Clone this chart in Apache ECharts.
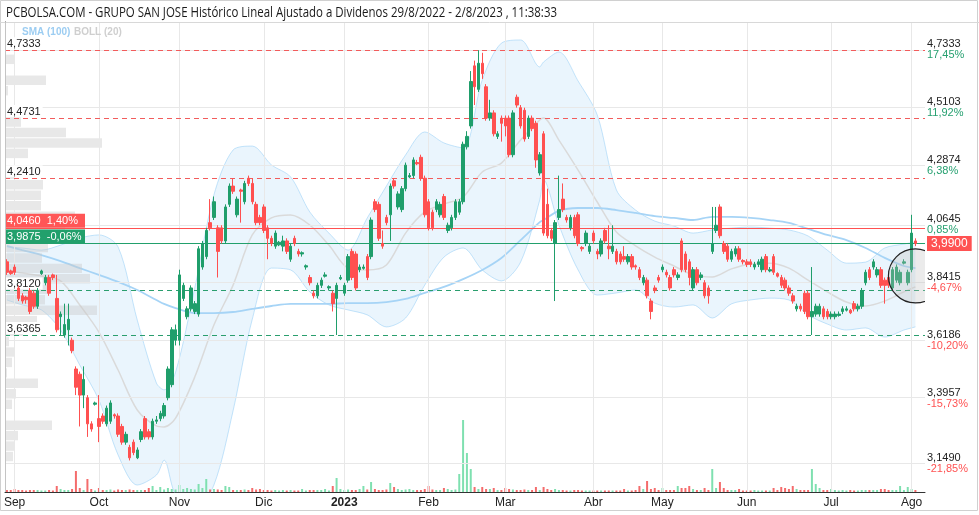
<!DOCTYPE html>
<html><head><meta charset="utf-8">
<script src="https://cdn.jsdelivr.net/npm/echarts@6/dist/echarts.min.js"></script>
<style>html,body{margin:0;padding:0;background:#fff}#c{width:979px;height:515px}</style>
</head><body><div id="c"></div>
<script>
// ---------- categories (trading days) ----------
const firstDate = '2022-08-30', lastDate = '2023-08-02';
const holidays = ['2022-12-26','2023-04-07','2023-04-10','2023-05-01'];
const monthNames = ['Ene','Feb','Mar','Abr','May','Jun','Jul','Ago','Sep','Oct','Nov','Dic'];
const padCategories = 2;

// ---------- OHLC: [open, close, low, high] ----------
const candlesAug22 = [[3.92,3.88,3.87,3.93],[3.885,3.875,3.87,3.89]];
const candlesSep = [[3.90,3.88,3.87,3.91],[3.82,3.78,3.77,3.83],[3.79,3.77,3.76,3.80],[3.785,3.775,3.76,3.79],[3.81,3.73,3.72,3.82],[3.80,3.75,3.74,3.81],[3.75,3.81,3.74,3.82],[3.875,3.885,3.87,3.89],[3.84,3.86,3.83,3.87],[3.86,3.80,3.79,3.87],[3.87,3.86,3.85,3.875],[3.78,3.66,3.65,3.87],[3.71,3.72,3.64,3.73],[3.64,3.68,3.63,3.76],[3.66,3.70,3.60,3.76],[3.62,3.58,3.57,3.63],[3.51,3.44,3.41,3.52],[3.49,3.41,3.29,3.50],[3.41,3.47,3.36,3.52],[3.40,3.30,3.25,3.41],[3.30,3.28,3.27,3.31],[3.375,3.38,3.37,3.385]];
const candlesOct = [[3.32,3.29,3.23,3.41],[3.33,3.31,3.30,3.34],[3.30,3.36,3.29,3.37],[3.31,3.38,3.30,3.39],[3.335,3.33,3.32,3.34],[3.33,3.26,3.25,3.34],[3.29,3.23,3.22,3.30],[3.23,3.26,3.22,3.27],[3.21,3.17,3.16,3.22],[3.23,3.19,3.18,3.24],[3.17,3.20,3.165,3.21],[3.24,3.27,3.23,3.28],[3.32,3.25,3.24,3.33],[3.27,3.25,3.24,3.28],[3.25,3.31,3.24,3.32],[3.31,3.315,3.30,3.33],[3.32,3.34,3.31,3.35],[3.33,3.37,3.32,3.38],[3.40,3.51,3.39,3.52],[3.45,3.66,3.44,3.67],[3.62,3.66,3.60,3.68]];
const candlesNov = [[3.62,3.87,3.60,3.89],[3.78,3.83,3.77,3.84],[3.71,3.74,3.70,3.75],[3.74,3.82,3.73,3.83],[3.73,3.76,3.72,3.77],[3.72,3.97,3.71,3.98],[3.90,3.99,3.89,4.00],[3.94,4.04,3.93,4.05],[4.07,4.05,4.04,4.16],[4.09,4.15,4.08,4.17],[4.05,3.96,3.86,4.06],[4.05,4.00,3.99,4.06],[4.00,4.13,3.99,4.14],[4.14,4.21,4.13,4.22],[4.21,4.19,4.18,4.24],[4.10,4.16,4.09,4.17],[4.195,4.19,4.07,4.20],[4.15,4.22,4.14,4.23],[4.24,4.22,4.21,4.25],[4.22,4.15,4.14,4.24],[4.14,4.07,4.06,4.15],[4.09,4.07,4.06,4.10]];
const candlesDec = [[4.13,4.04,4.03,4.14],[4.05,4.01,3.93,4.06],[4.01,3.99,3.98,4.02],[3.98,4.03,3.97,4.04],[3.985,3.995,3.98,4.00],[3.98,4.00,3.96,4.02],[4.00,3.96,3.95,4.01],[3.93,3.98,3.92,3.99],[4.01,3.99,3.98,4.02],[3.96,3.95,3.94,3.97],[3.95,3.955,3.94,3.96],[3.90,3.905,3.89,3.91],[3.86,3.84,3.83,3.87],[3.80,3.79,3.78,3.81],[3.79,3.83,3.78,3.84],[3.83,3.85,3.82,3.86],[3.865,3.87,3.86,3.88],[3.82,3.825,3.81,3.83],[3.80,3.76,3.73,3.81],[3.78,3.83,3.64,3.84],[3.855,3.86,3.85,3.87]];
const candlesJan = [[3.80,3.83,3.79,3.84],[3.85,3.94,3.84,3.95],[3.96,3.86,3.85,3.97],[3.95,3.82,3.81,3.96],[3.89,3.90,3.88,3.91],[3.895,3.90,3.89,3.91],[3.94,3.86,3.85,3.95],[3.94,4.08,3.93,4.09],[4.15,4.12,4.11,4.16],[4.14,4.01,4.00,4.15],[3.99,3.98,3.97,4.04],[4.09,4.07,4.06,4.10],[4.10,4.21,4.00,4.22],[4.23,4.21,4.20,4.24],[4.13,4.18,4.12,4.19],[4.12,4.20,4.11,4.21],[4.20,4.29,4.19,4.30],[4.245,4.25,4.24,4.26],[4.25,4.31,4.24,4.32],[4.30,4.295,4.29,4.31],[4.32,4.24,4.23,4.33],[4.24,4.10,4.09,4.25]];
const candlesFeb = [[4.15,4.05,4.04,4.16],[4.11,4.05,4.04,4.12],[4.12,4.15,4.11,4.16],[4.10,4.14,4.09,4.15],[4.17,4.09,4.08,4.18],[4.04,4.06,4.03,4.07],[4.05,4.09,4.04,4.10],[4.09,4.15,4.08,4.16],[4.11,4.15,4.10,4.16],[4.15,4.37,4.14,4.38],[4.36,4.40,4.35,4.42],[4.44,4.61,4.43,4.65],[4.67,4.59,4.52,4.69],[4.58,4.68,4.57,4.73],[4.68,4.64,4.62,4.72],[4.59,4.47,4.46,4.60],[4.47,4.49,4.46,4.54],[4.49,4.41,4.40,4.50],[4.40,4.41,4.39,4.42],[4.47,4.45,4.38,4.48]];
const candlesMar = [[4.47,4.44,4.40,4.48],[4.47,4.33,4.32,4.48],[4.33,4.49,4.32,4.50],[4.55,4.52,4.51,4.56],[4.51,4.44,4.43,4.52],[4.50,4.39,4.38,4.51],[4.40,4.47,4.39,4.48],[4.47,4.43,4.42,4.48],[4.45,4.31,4.28,4.46],[4.26,4.33,4.25,4.34],[4.41,4.03,4.02,4.42],[4.14,4.02,4.01,4.20],[4.04,4.01,4.00,4.05],[3.99,4.07,3.77,4.08],[4.09,4.12,4.08,4.25],[4.16,4.12,4.11,4.22],[4.09,4.08,4.07,4.10],[4.05,4.09,4.04,4.10],[4.09,4.02,4.01,4.10],[4.10,3.99,3.98,4.11],[3.975,3.97,3.96,3.98],[3.99,4.03,3.98,4.04],[3.96,3.98,3.95,3.99]];
const candlesApr = [[4.03,4.00,3.99,4.04],[3.96,3.95,3.93,3.97],[3.95,4.00,3.94,4.01],[4.04,4.00,3.99,4.05],[3.98,3.97,3.93,4.06],[3.96,3.98,3.95,4.06],[3.96,3.92,3.91,3.97],[3.95,3.92,3.91,3.96],[3.94,3.93,3.92,3.98],[3.92,3.94,3.91,3.95],[3.94,3.90,3.89,3.95],[3.905,3.90,3.89,3.91],[3.89,3.86,3.85,3.90],[3.84,3.86,3.83,3.87],[3.85,3.79,3.78,3.86],[3.77,3.73,3.70,3.78],[3.82,3.81,3.80,3.83],[3.86,3.85,3.84,3.87]];
const candlesMay = [[3.89,3.90,3.88,3.91],[3.88,3.87,3.86,3.89],[3.86,3.82,3.81,3.87],[3.89,3.87,3.86,3.90],[3.86,3.87,3.85,3.88],[4.00,3.89,3.88,4.01],[3.95,3.89,3.88,3.96],[3.92,3.86,3.83,3.93],[3.82,3.89,3.81,3.90],[3.89,3.84,3.83,3.90],[3.86,3.87,3.85,3.88],[3.84,3.79,3.78,3.85],[3.82,3.79,3.76,3.83],[3.96,3.99,3.95,4.13],[4.04,4.06,4.03,4.13],[4.13,4.02,4.01,4.14],[3.99,3.96,3.95,4.00],[3.98,3.93,3.92,3.99],[3.93,3.96,3.92,3.97],[3.95,3.97,3.94,3.98],[3.97,3.93,3.92,3.98],[3.925,3.92,3.91,3.93]];
const candlesJun = [[3.92,3.91,3.90,3.93],[3.92,3.91,3.90,3.93],[3.90,3.91,3.89,3.92],[3.91,3.92,3.90,3.93],[3.89,3.93,3.88,3.94],[3.94,3.89,3.88,3.95],[3.885,3.89,3.88,3.90],[3.94,3.88,3.87,3.95],[3.875,3.865,3.86,3.88],[3.86,3.83,3.82,3.87],[3.85,3.82,3.81,3.86],[3.82,3.80,3.79,3.83],[3.79,3.77,3.76,3.80],[3.74,3.75,3.73,3.76],[3.75,3.74,3.73,3.76],[3.80,3.73,3.72,3.81],[3.80,3.71,3.70,3.81],[3.71,3.73,3.64,3.90],[3.72,3.75,3.71,3.76],[3.72,3.75,3.71,3.76],[3.74,3.71,3.70,3.75],[3.73,3.71,3.70,3.74]];
const candlesJul = [[3.71,3.72,3.70,3.73],[3.71,3.72,3.70,3.73],[3.715,3.72,3.71,3.73],[3.73,3.74,3.72,3.75],[3.735,3.74,3.73,3.75],[3.735,3.725,3.72,3.74],[3.76,3.74,3.73,3.77],[3.74,3.75,3.73,3.76],[3.75,3.81,3.74,3.82],[3.84,3.88,3.83,3.89],[3.89,3.86,3.85,3.90],[3.90,3.92,3.89,3.93],[3.87,3.89,3.86,3.90],[3.89,3.83,3.82,3.90],[3.85,3.83,3.76,3.86],[3.86,3.83,3.82,3.87],[3.82,3.89,3.81,3.90],[3.85,3.90,3.84,3.91],[3.84,3.88,3.83,3.89],[3.915,3.92,3.91,3.93],[3.84,3.88,3.83,3.89]];
const candlesAug23 = [[3.89,4.03,3.88,4.10],[4.00,3.99,3.98,4.01]];

// ---------- volume (miles de acciones) ----------
const volAug22 = [40,40];
const volSep = [60,40,40,30,40,40,40,30,30,40,30,120,60,40,40,60,420,80,40,260,60,30];
const volOct = [80,40,40,50,30,50,40,40,50,40,40,40,40,80,120,40,100,50,80,60,50];
const volNov = [140,60,80,60,50,160,80,260,50,60,50,40,120,100,40,40,40,50,40,80,50,60];
const volDec = [40,40,30,40,30,40,30,40,30,30,60,30,40,40,40,40,60,30,120,280,60];
const volJan = [40,50,40,40,60,120,50,200,60,40,40,50,180,100,60,40,50,60,40,40,40,60];
const volFeb = [120,50,40,40,80,60,40,50,360,1440,780,460,100,60,100,60,60,80,40,40];
const volMar = [80,60,50,40,40,50,40,40,100,40,100,60,40,60,40,40,30,30,40,40,30,30,30];
const volApr = [30,30,30,30,30,30,30,30,60,30,30,40,120,60,220,60,80,40];
const volMay = [80,40,40,40,120,80,80,120,60,40,40,80,40,460,80,200,80,40,40,40,60,30];
const volJun = [30,30,40,30,30,30,30,80,40,100,80,60,120,60,40,40,40,460,160,80,40,40];
const volJul = [60,40,30,40,30,40,30,30,40,40,40,40,40,60,60,40,40,40,120,40,100];
const volAug23 = [60,40];

// ---------- indicators read at sampled days (category index) ----------
const sampleIdx = [0,4,9,14,19,24,29,34,39,41,44,49,54,59,64,69,74,79,84,89,94,99,104,109,114,119,124,129,134,139,140,144,149,154,159,164,169,174,179,184,189,194,199,204,209,214,219,224,229,234,237];
const bollUpper = [3.977,3.973,3.965,3.984,4.011,4.023,3.977,3.697,3.456,3.43,3.498,3.820,4.176,4.348,4.363,4.291,4.245,4.111,4.030,3.965,4.088,4.210,4.329,4.417,4.375,4.356,4.616,4.757,4.769,4.666,4.685,4.723,4.612,4.482,4.195,4.118,4.076,4.057,4.030,4.042,4.049,4.053,4.049,4.042,4.019,3.965,3.915,3.919,3.973,3.988,3.996];
const bollLower = [3.774,3.755,3.736,3.659,3.525,3.391,3.181,3.066,3.104,3.161,3.028,2.970,3.066,3.35,3.70,3.896,3.889,3.805,3.755,3.736,3.717,3.671,3.705,3.831,3.938,3.973,3.889,3.847,3.919,4.157,4.234,4.061,3.889,3.793,3.801,3.812,3.762,3.747,3.755,3.705,3.759,3.774,3.781,3.774,3.717,3.682,3.659,3.667,3.632,3.659,3.671];
const bollMiddle = [3.889,3.877,3.866,3.847,3.755,3.651,3.506,3.353,3.292,3.288,3.322,3.479,3.678,3.831,4.023,4.088,4.099,4.061,3.984,3.896,3.889,3.908,4.030,4.111,4.141,4.168,4.264,4.298,4.386,4.463,4.47,4.386,4.271,4.149,4.034,3.981,3.938,3.904,3.870,3.862,3.893,3.912,3.915,3.896,3.850,3.805,3.766,3.751,3.770,3.805,3.824];
const sma100 = [3.981,3.965,3.946,3.923,3.896,3.870,3.843,3.812,3.774,3.759,3.743,3.724,3.724,3.728,3.740,3.751,3.759,3.759,3.759,3.762,3.762,3.766,3.778,3.801,3.824,3.854,3.889,3.935,4.003,4.072,4.08,4.115,4.126,4.126,4.118,4.107,4.095,4.088,4.080,4.092,4.092,4.088,4.080,4.069,4.046,4.023,4.003,3.973,3.935,3.904,3.896];

// ---------- volume profile (price bins) ----------
const profileStart = 3.155, profileStep = 0.04;
const profileVolume = [8,10,13,47,0,7,11,33,2,7,9,4,18,32,92,40,43,85,77,37,43,40,60,70,36,36,38,10,0,23,97,61,16,23,0,3,41,0,10,0];

// ---------- levels and axis ticks ----------
const resistances = [4.7333, 4.4731, 4.2410];
const supports = [3.8120, 3.6365];
const upperLine = 4.0460, upperLinePct = '1,40%';
const lowerLine = 3.9875, lowerLinePct = '-0,06%';
const lastPrice = 3.9900;
const markedPoint = [237, 3.866];
const rightTicks = [4.7333, 4.5103, 4.2874, 4.0645, 3.8415, 3.6186, 3.3957, 3.1490];
const rightPct = ['17,45%','11,92%','6,38%','0,85%','-4,67%','-10,20%','-15,73%','-21,85%'];
const titleText = 'PCBOLSA.COM - GRUPO SAN JOSE Histórico Lineal Ajustado a Dividenos 29/8/2022 - 2/8/2023 , 11:38:33';

// ---------- build ----------
const categories = [];
for (let d = new Date(firstDate + 'T00:00:00Z'); d <= new Date(lastDate + 'T00:00:00Z'); d.setUTCDate(d.getUTCDate() + 1)) {
  const wd = d.getUTCDay(), s = d.toISOString().slice(0, 10);
  if (wd === 0 || wd === 6 || holidays.includes(s)) continue;
  categories.push(s);
}
for (let k = 0; k < padCategories; k++) categories.push('');
const monthStart = new Set();
for (let j = 1; j < categories.length; j++) {
  if (categories[j] && categories[j].slice(0, 7) !== categories[j - 1].slice(0, 7)) monthStart.add(j);
}
const candles = [].concat(candlesAug22, candlesSep, candlesOct, candlesNov, candlesDec, candlesJan, candlesFeb, candlesMar, candlesApr, candlesMay, candlesJun, candlesJul, candlesAug23);
const volume = [].concat(volAug22, volSep, volOct, volNov, volDec, volJan, volFeb, volMar, volApr, volMay, volJun, volJul, volAug23);

const GREEN = '#1f9e6b', RED = '#ff5050';
const fmt4 = v => v.toFixed(4).replace('.', ',');
const yMin = 3.0392, yMax = 4.8378;

const volData = volume.map((v, j) => ({ value: v, itemStyle: { color: candles[j][1] >= candles[j][0] ? '#7fe0b0' : '#f46c6c' } }));
const pair = arr => sampleIdx.map((c, k) => [c, arr[k]]);
const bandRange = sampleIdx.map((c, k) => [c, bollUpper[k] - bollLower[k]]);

const chart = echarts.init(document.getElementById('c'), null, { renderer: 'canvas' });

// title width fitting
const ctx = document.createElement('canvas').getContext('2d');
ctx.font = '14px "Open Sans"';
const titleScale = 551 / ctx.measureText(titleText).width;

const levelLabel = { position: 'insideStartTop', distance: [0, 1], backgroundColor: '#fff', color: '#222', fontSize: 11, padding: [1, 2, 0, 2], fontFamily: 'Liberation Sans' };

chart.setOption({
  animation: false,
  backgroundColor: '#fff',
  textStyle: { fontFamily: 'Liberation Sans' },
  grid: { left: 5, right: 54, top: 22, bottom: 23, containLabel: false },
  xAxis: [{
    type: 'category', data: categories, boundaryGap: true,
    axisLine: { show: true, lineStyle: { color: '#333' } },
    axisTick: { show: false }, splitLine: { show: false },
    axisLabel: {
      interval: (idx) => monthStart.has(idx), margin: 5, fontSize: 12, color: '#222',
      formatter: (val) => {
        if (!val) return '';
        const m = +val.slice(5, 7);
        return m === 1 ? '{b|' + val.slice(0, 4) + '}' : monthNames[m - 1];
      },
      rich: { b: { fontWeight: 'bold', fontSize: 12, color: '#222' } }
    }
  }, { type: 'value', min: 0, max: 920, show: false }],
  yAxis: [{
    type: 'value', position: 'right', min: yMin, max: yMax,
    axisLine: { show: true, lineStyle: { color: '#333' } },
    axisTick: { show: false }, splitLine: { show: false },
    axisLabel: {
      customValues: rightTicks, margin: 2,
      formatter: (v) => {
        const j = rightTicks.findIndex(t => Math.abs(t - v) < 1e-6);
        if (j < 0) return '';
        const p = rightPct[j];
        return '{v|' + fmt4(v) + '}\n{' + (p[0] === '-' ? 'n' : 'p') + '|' + p + '}';
      },
      rich: {
        v: { color: '#222', fontSize: 11, lineHeight: 11 },
        p: { color: '#26a070', fontSize: 11, lineHeight: 11 },
        n: { color: '#ff5252', fontSize: 11, lineHeight: 11 }
      }
    }
  }, { type: 'value', min: 0, max: 9400, show: false }],
  series: [
    { // grid lines
      type: 'line', data: [], z: 0, silent: true,
      markLine: {
        silent: true, symbol: 'none', label: { show: false },
        lineStyle: { color: '#e8e8e8', type: 'solid', width: 1 },
        data: rightTicks.map(v => ({ yAxis: v })).concat([...monthStart].map(j => ({ xAxis: categories[j] })))
      }
    },
    { name: 'BOLL low', type: 'line', stack: 'boll', data: pair(bollLower), symbol: 'none', smooth: 0.3, z: 1, silent: true,
      lineStyle: { color: 'rgba(150,205,245,0.55)', width: 1 } },
    { name: 'BOLL band', type: 'line', stack: 'boll', data: bandRange, symbol: 'none', smooth: 0.3, z: 1, silent: true,
      lineStyle: { color: 'rgba(150,205,245,0.55)', width: 1 }, areaStyle: { color: 'rgba(170,215,248,0.35)' } },
    { name: 'BOLL (20)', type: 'line', data: pair(bollMiddle), symbol: 'none', smooth: 0.3, z: 2, silent: true,
      lineStyle: { color: '#dadada', width: 1.5 } },
    { name: 'SMA (100)', type: 'line', data: pair(sma100), symbol: 'none', smooth: 0.3, z: 2, silent: true,
      lineStyle: { color: '#a6d4f6', width: 1.8 } },
    { // volume profile
      type: 'custom', xAxisIndex: 1, yAxisIndex: 0, z: 3, silent: true,
      data: profileVolume.map((w, k) => [w, profileStart + k * profileStep, profileStart + (k + 1) * profileStep]),
      encode: { x: 0, y: [1, 2] },
      renderItem: (params, api) => {
        const w = api.value(0);
        if (!w) return null;
        const a = api.coord([0, api.value(1)]), b = api.coord([w, api.value(2)]);
        return { type: 'rect', shape: { x: a[0], y: b[1] + 0.5, width: b[0] - a[0], height: a[1] - b[1] - 1 }, style: { fill: 'rgba(200,200,200,0.42)' } };
      }
    },
    { name: 'Volumen', type: 'bar', xAxisIndex: 0, yAxisIndex: 1, data: volData, barWidth: 2, z: 3, silent: true },
    { name: 'SAN JOSE', type: 'candlestick', data: candles, barWidth: 3, z: 5, silent: true,
      itemStyle: { color: GREEN, color0: RED, borderColor: GREEN, borderColor0: RED, borderWidth: 1 } },
    { // levels
      type: 'line', data: [], z: 6, silent: true,
      markLine: {
        silent: true, symbol: 'none', label: levelLabel,
        data: [].concat(
          resistances.map(v => ({ yAxis: v, lineStyle: { color: '#f25c5c', type: [5, 4], width: 1 }, label: { formatter: fmt4(v) } })),
          supports.map(v => ({ yAxis: v, lineStyle: { color: '#2a9e6e', type: [5, 4], width: 1 }, label: { formatter: fmt4(v) } })),
          [{ yAxis: upperLine, lineStyle: { color: '#ff5050', type: 'solid', width: 1 },
             label: { formatter: fmt4(upperLine) + '  ' + upperLinePct, backgroundColor: '#ff5656', color: '#fff', fontSize: 11, padding: [2, 2, 1, 2], width: 76, distance: [0, 0] } },
           { yAxis: lowerLine, lineStyle: { color: '#22a06c', type: 'solid', width: 1 },
             label: { formatter: fmt4(lowerLine) + '  ' + lowerLinePct, backgroundColor: '#22a06c', color: '#fff', fontSize: 11, padding: [2, 2, 1, 2], width: 76, distance: [0, 0] } }]
        )
      }
    },
    { // last price tag
      type: 'line', data: [], z: 8, silent: true,
      markLine: {
        silent: true, symbol: 'none',
        lineStyle: { color: 'rgba(0,0,0,0)', width: 0 },
        label: { position: 'end', distance: 2, backgroundColor: '#ff5252', color: '#fff', fontSize: 12, padding: [2, 4, 1, 4], fontFamily: 'Liberation Sans' },
        data: [{ yAxis: lastPrice, label: { formatter: fmt4(lastPrice) } }]
      }
    },
    { // marked point circle
      type: 'custom', clip: true, z: 7, silent: true, data: [markedPoint],
      renderItem: (params, api) => {
        const c = api.coord([api.value(0), api.value(1)]);
        return { type: 'circle', shape: { cx: c[0], cy: c[1], r: 27 }, style: { fill: 'rgba(190,190,190,0.3)', stroke: '#222', lineWidth: 1.2 } };
      }
    }
  ],
  graphic: [
    { type: 'rect', silent: true, z: 100, shape: { x: 0.5, y: 0.5, width: 977, height: 510 }, style: { fill: 'none', stroke: '#d0d0d0' } },
    { type: 'line', silent: true, z: 100, shape: { x1: 0, y1: 22.5, x2: 979, y2: 22.5 }, style: { stroke: '#d8d8d8' } },
    { type: 'line', silent: true, z: 100, shape: { x1: 5.5, y1: 22, x2: 5.5, y2: 492 }, style: { stroke: '#c4c4c4' } },
    { type: 'text', silent: true, z: 100, x: 6, y: 13, scaleX: titleScale,
      style: { text: titleText, font: '14px "Open Sans"', fill: '#1a1a1a', verticalAlign: 'middle' } },
    { type: 'text', silent: true, z: 100, x: 22, y: 32,
      style: { text: 'SMA (100)', font: 'bold 10px "Liberation Sans"', fill: '#9ccdf2', verticalAlign: 'middle' } },
    { type: 'text', silent: true, z: 100, x: 74, y: 32,
      style: { text: 'BOLL (20)', font: 'bold 10px "Liberation Sans"', fill: '#cfcfcf', verticalAlign: 'middle' } }
  ]
});
</script></body></html>
